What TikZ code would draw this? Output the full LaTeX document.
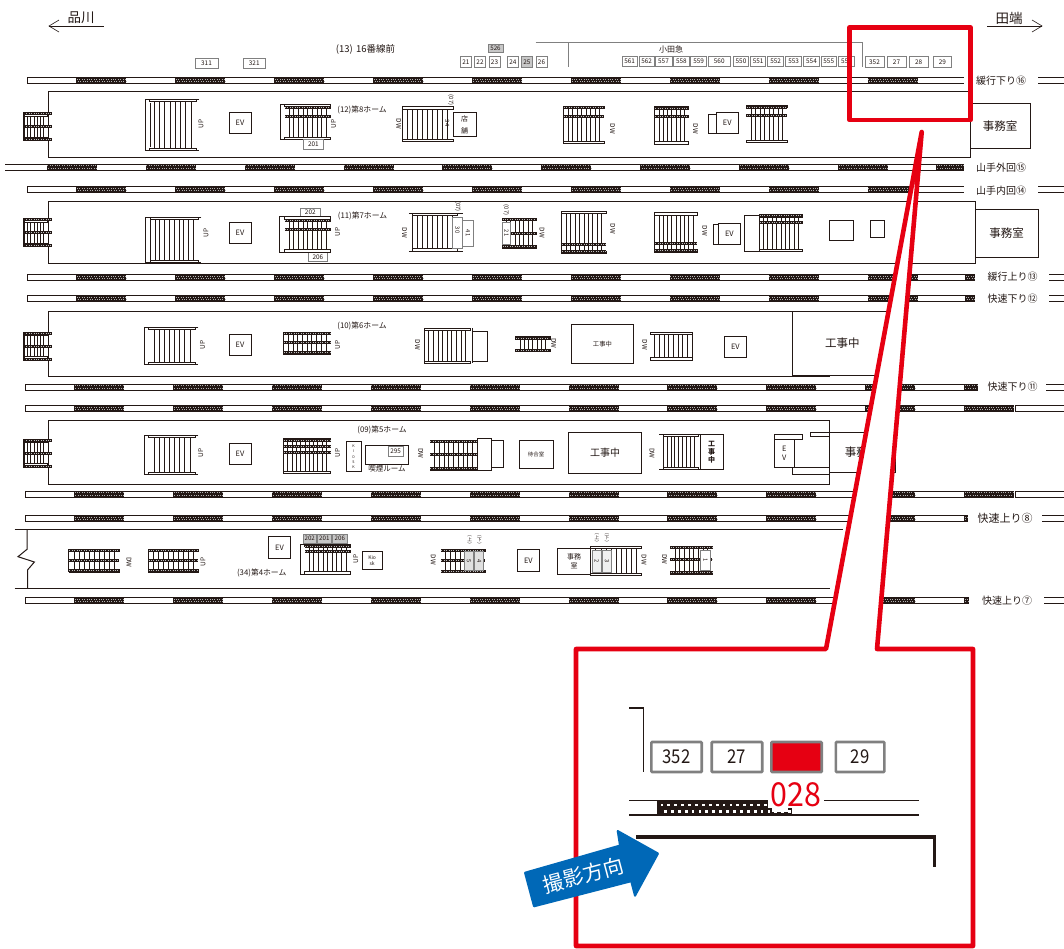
\documentclass[tikz,border=0pt]{standalone}
\usepackage{fontspec}
\setmainfont{Noto Sans CJK JP}
\definecolor{inkdark}{HTML}{231815}
\definecolor{boxgrey}{HTML}{808080}
\definecolor{markred}{HTML}{E60012}
\definecolor{dirblue}{HTML}{0068B7}
\newcommand{\fs}[1]{\fontsize{#1}{#1}\selectfont}
\tikzset{
  rail/.style={draw=inkdark,line width=.7},
  wall/.style={draw=inkdark,line width=1},
  thinbox/.style={draw=inkdark,line width=.6,fill=white},
  numbox/.style={draw=boxgrey,line width=.8,fill=white},
  greybox/.style={draw=boxgrey,line width=.8,fill=black!22},
  tag/.style={font=\fs{#1},text=inkdark,inner sep=0pt},
  tag/.default=6
}
\newcommand{\blk}[3]{\fill[inkdark] (#1,#3) rectangle (#2,#3+6);
  \draw[black!30,line width=.9,dash pattern=on .9 off 1.5] (#1+.6,#3+1.8) -- (#2-.4,#3+1.8);
  \draw[black!30,line width=.9,dash pattern=on .9 off 1.5] (#1+1.4,#3+4.2) -- (#2-.4,#3+4.2);}
\newcommand{\track}[3]{\draw[rail] (#2,#1) -- (#2,#1+6);
  \draw[rail] (#2,#1) -- (#3,#1) (#2,#1+6) -- (#3,#1+6);}
\newcommand{\blocks}[2]{\foreach \k in {0,...,8} \blk{#1+98.9*\k}{#1+98.9*\k+50}{#2};}
\newcommand{\stair}[5]{\foreach \k in {1,...,#5} \draw[inkdark,line width=.5] ({#1+(#2-#1)*\k/(#5+1)},#3) -- ({#1+(#2-#1)*\k/(#5+1)},#4);
  \draw[thinbox] (#1,#3) rectangle (#2,#3+2.4);
  \draw[thinbox] (#1,#4-2.4) rectangle (#2,#4);}
\newcommand{\band}[3]{\fill[inkdark] (#1,#3-1.5) rectangle (#2,#3+1.5);
  \draw[black!25,line width=.7,dash pattern=on .8 off 1.6] (#1+.5,#3) -- (#2-.5,#3);}
\newcommand{\sideesc}[1]{\stair{24}{47}{#1-13}{#1+13}{6}
  \band{23.4}{51.6}{#1-13}\band{23.4}{51.6}{#1}\band{23.4}{51.6}{#1+13}
  \draw[inkdark,line width=1.4] (24,#1-14) -- (24,#1+14);}
\newcommand{\uplbl}[2]{\node[tag=6.5,rotate=90] at (#1,#2) {UP};}
\newcommand{\dwlbl}[2]{\node[tag=6.5,rotate=-90] at (#1,#2) {DW};}
\newcommand{\vlbl}[3]{\node[tag=5.8,rotate=-90] at (#1,#2) {#3};}
\newcommand{\updown}[3]{\node[tag=4.6,align=center] at (#1,#2) {︵\\#3\\︶};}
\newcommand{\evbox}[4]{\draw[thinbox] (#1,#3) rectangle node[tag=7.4] {EV} (#2,#4);}
\newcommand{\nb}[5]{\draw[numbox] (#1,#3) rectangle node[tag=6.4] {#5} (#2,#4);}
\begin{document}
\begin{tikzpicture}[x=1pt,y=-1pt]
\useasboundingbox (0,0) rectangle (1064,948);
\fill[white] (0,0) rectangle (1064,948);
\draw[inkdark,line width=.6] (49,26) -- (104,26);
\draw[inkdark,line width=.6] (59,20) -- (49,26) -- (59,32);
\draw[inkdark,line width=.6] (987,26) -- (1042,26);
\draw[inkdark,line width=.6] (1032,20) -- (1042,26) -- (1032,32);
\node[tag=13.5] at (81,18) {品川};
\node[tag=13.5] at (1009,18) {田端};
\node[tag=9.5] at (365.5,49) {(13)\,\,16番線前};
\node[tag=8] at (671,49) {小田急};
\draw[boxgrey,line width=.8] (535.5,42.7) -- (862,42.7) -- (862,67);
\draw[boxgrey,line width=.8] (568,42.7) -- (568,67);
\nb{195}{218}{58.7}{68}{311}
\nb{243}{265.5}{58.7}{68}{321}
\draw[greybox] (488,44.3) rectangle node[tag=6.2] {526} (503,52.7);
\nb{460.7}{471}{56.7}{67}{21}
\nb{474.5}{485.5}{56.7}{67}{22}
\nb{489}{500}{56.7}{67}{23}
\nb{507.6}{518}{56.7}{67}{24}
\draw[greybox] (521.7,56.7) rectangle node[tag=6.4] {25} (532,67);
\nb{536}{547}{56.7}{67}{26}
\foreach \xa/\xb/\num in {622/637.3/561,639/654.3/562,655/672/557,673.7/689/558,690.8/706.4/559,708.5/730/560,733.3/748.7/550,750.7/765.7/551,767.7/783.7/552,785.8/801.5/553,803.5/819.5/554,821/836.5/555,838.6/854.2/556}
  \nb{\xa}{\xb}{56}{66.7}{\num};
\foreach \xa/\xb/\num in {865/884/352,887/906/27,909.4/928/28,933/951.6/29}
  \nb{\xa}{\xb}{56.7}{67.3}{\num};

\track{77.3}{27}{964}
\blocks{76.4}{77.3}
\draw[rail] (5,164) -- (964,164) (5,170) -- (964,170);
\blocks{46.8}{164}
\blk{936}{964}{164}
\track{186.7}{27}{964}
\blocks{76.4}{186.7}
\track{274.3}{27}{975}
\blocks{76.4}{274.3}
\blk{965.3}{975}{274.3}
\track{295.7}{27}{975}
\blocks{76.4}{295.7}
\blk{965.3}{975}{295.7}
\track{384}{25}{977.5}
\blocks{74}{384}
\blk{964}{977.5}{384}
\track{405.3}{25}{1013.7}
\blocks{74}{405.3}
\blk{964}{1013.7}{405.3}
\track{491}{25}{1013.7}
\blocks{74}{491}
\blk{964}{1013.7}{491}
\track{515.3}{25}{967.7}
\blocks{74}{515.3}
\blk{964}{967.7}{515.3}
\track{597.7}{25}{969.4}
\blocks{74}{597.7}
\blk{964}{969.4}{597.7}
\foreach \xa/\yy in {1038/77.3,1038/186.7,1049/274.3,1049/295.7,1046/384,1042/515.3,1044/597.7}
  \draw[rail] (\xa,\yy) -- (1064,\yy) (\xa,\yy+6) -- (1064,\yy+6);
\foreach \yy in {405.3,491} \track{\yy}{1015.4}{1064};
\foreach \xx/\yy/\txt/\sz in {1001/81/緩行下り⑯/10,1001/168/山手外回⑮/10,1001/191/山手内回⑭/10,1012.5/277/緩行上り⑬/10,1012.5/298.5/快速下り⑫/10,1012.5/387/快速下り⑪/10,1005/518/快速上り⑧/11,1007/600.5/快速上り⑦/10}
  \node[tag=\sz] at (\xx,\yy) {\txt};

\draw[wall] (48.6,91.3) rectangle (970,157.3);
\sideesc{126.5}
\stair{149}{196}{99.3}{150.7}{8}
\draw[thinbox,fill=none] (199,99.3) -- (145.3,99.3) -- (145.3,150.7) -- (199,150.7);
\draw[inkdark,line width=.5] (149.8,103) -- (149.8,147);
\uplbl{201}{124}
\evbox{229}{251}{112.3}{133.3}
\stair{284.5}{330.7}{104.3}{139.3}{9}
\draw[thinbox,fill=none] (330.7,104.3) -- (280,104.3) -- (280,139.3) -- (330.7,139.3);
\band{284.5}{330.7}{107.8}\band{284.5}{330.7}{116.7}
\uplbl{333.5}{124}
\nb{303}{323.7}{139.3}{149}{201}
\node[tag=7.8] at (362,110.3) {(12)第8ホーム};
\stair{402}{452.8}{106.7}{141.7}{9}
\draw[inkdark,line width=.5] (402,106.7) -- (402,141.7);
\dwlbl{398.8}{124}
\vlbl{447.3}{123}{34}
\vlbl{451}{100}{(07)}
\draw[thinbox] (452.8,112.3) rectangle (476.6,136.7);
\node[tag=7,align=center] at (464.7,124.5) {店\\[5pt]舗};
\stair{563.4}{604.2}{106}{143.3}{8}
\draw[inkdark,line width=.6] (563.4,106) -- (563.4,143.3);
\band{563.4}{604.2}{107.8}\band{563.4}{604.2}{116}
\dwlbl{612.4}{129}
\stair{654.7}{688.7}{106.7}{144}{7}
\draw[inkdark,line width=.6] (654.7,106.7) -- (654.7,144);
\band{654.7}{688.7}{108.5}\band{654.7}{688.7}{116.5}
\dwlbl{695.5}{129}
\draw[thinbox] (708,114) rectangle (716.6,133.3);
\evbox{716.6}{737.8}{112.3}{133.3}
\stair{746.3}{787}{105.3}{142.3}{8}
\band{746.3}{787}{107}\band{746.3}{787}{115}
\draw[thinbox] (970,103.3) rectangle node[tag=11.5] {事務室} (1030.3,148);

\draw[wall] (48.6,201.7) rectangle (975.5,263.3);
\sideesc{232.5}
\stair{150}{198}{217.3}{262.7}{9}
\draw[thinbox,fill=none] (201.4,217.3) -- (145.3,217.3) -- (145.3,262.7) (145.3,262.7) -- (201.4,262.7);
\draw[inkdark,line width=.5] (150,220) -- (150,260);
\uplbl{206}{232.7}
\evbox{229}{251}{222.3}{243.3}
\nb{300.6}{320}{208}{216.7}{202}
\nb{308.2}{327.5}{252}{261.7}{206}
\stair{284.5}{330.6}{216.7}{252}{9}
\draw[thinbox,fill=none] (330.6,216.7) -- (279.6,216.7) -- (279.6,252) -- (330.6,252);
\band{284.5}{330.6}{220.7}\band{284.5}{330.6}{229}
\uplbl{337.5}{232}
\node[tag=7.8] at (362.5,216) {(11)第7ホーム};
\stair{412}{457}{213.3}{251}{8}
\draw[inkdark,line width=.5] (412,213.3) -- (412,251);
\draw[thinbox,fill=none] (408.8,213.3) -- (462.5,213.3) (408.8,251) -- (462.5,251);
\dwlbl{404.6}{233}
\draw[numbox] (452.8,217) rectangle (462.5,248);
\vlbl{457.5}{230}{30}
\draw[numbox] (462.5,220) rectangle (473.5,246.7);
\vlbl{468}{233}{41}
\vlbl{458}{206.7}{(07)}
\vlbl{506.2}{210}{(07)}
\stair{502}{536.5}{218.3}{248.3}{7}
\band{502}{536.5}{219.8}\band{502}{536.5}{233}\band{502}{536.5}{246.8}
\draw[numbox] (502,222.3) rectangle (510.7,244.3);
\vlbl{506.5}{233}{21}
\dwlbl{542}{233}
\stair{561.7}{606}{211}{253.3}{9}
\draw[inkdark,line width=.6] (561.7,211) -- (561.7,253.3);
\band{561.7}{606}{244.3}\band{561.7}{606}{251.7}
\dwlbl{612.8}{229}
\stair{654.7}{697}{212.7}{252}{9}
\draw[inkdark,line width=.6] (654.7,212.7) -- (654.7,252);
\band{654.7}{697}{243.3}\band{654.7}{697}{250.7}
\dwlbl{704.7}{231}
\draw[thinbox] (713,224.3) rectangle (718.7,244);
\evbox{718.7}{740}{223.3}{244.3}
\draw[thinbox] (744.2,215) rectangle (759,251.7);
\stair{759}{802.5}{214.5}{251.7}{9}
\band{759}{802.5}{215.5}\band{759}{802.5}{222.3}
\draw[thinbox] (829.4,220.7) rectangle (853.6,240.7);
\draw[thinbox] (870,220.7) rectangle (884.2,237.3);
\draw[thinbox] (975.5,209.3) rectangle node[tag=11.5] {事務室} (1037.8,257.3);

\draw[wall] (48.6,311) rectangle (792.3,376.7);
\draw[thinbox] (792.3,311) rectangle (892,375.7);
\node[tag=11.5] at (842.3,343.3) {工事中};
\draw[wall] (792.3,311) -- (829.7,311) (792.3,376.7) -- (829.7,376.7);
\sideesc{346}
\stair{148.7}{195}{327.3}{364.3}{8}
\draw[thinbox,fill=none] (198.3,327.3) -- (144.3,327.3) -- (144.3,364.3) -- (198.3,364.3);
\uplbl{202.5}{344.7}
\evbox{229}{251}{334.3}{355.7}
\stair{283.4}{330.6}{332.3}{354}{9}
\band{283.4}{330.6}{333.5}\band{283.4}{330.6}{342.7}\band{283.4}{330.6}{352.8}
\draw[inkdark,line width=1] (283.4,332.3) -- (283.4,354);
\uplbl{337.5}{345}
\node[tag=7.8] at (362,326) {(10)第6ホーム};
\draw[thinbox] (471.8,331.7) rectangle (487.3,361.7);
\stair{424}{470}{328.3}{363.3}{9}
\draw[inkdark,line width=.5] (424,328.3) -- (424,363.3) (471.8,328.3) -- (471.8,363.3);
\dwlbl{417.4}{345}
\stair{515.5}{549.8}{336.7}{351.7}{7}
\band{515.5}{549.8}{338}\band{515.5}{549.8}{350.4}
\dwlbl{553.8}{343.3}
\draw[thinbox] (571.6,324.3) rectangle node[tag=6.3] {工事中} (633.2,363.3);
\stair{650}{692}{332.3}{360}{8}
\draw[inkdark,line width=.8] (692,332.3) -- (692,360);
\dwlbl{644.8}{345}
\evbox{724.5}{746.3}{336.3}{357.3}

\draw[wall] (48.6,420.3) rectangle (829,484.3);
\draw[thinbox] (829,432.3) rectangle node[tag=11.5] {事務室} (895,472.7);
\sideesc{453}
\stair{148.7}{195}{435.3}{474.7}{8}
\draw[thinbox,fill=none] (198.3,435.3) -- (144.3,435.3) -- (144.3,474.7) -- (198.3,474.7);
\uplbl{200.8}{452.7}
\evbox{229}{251}{443.3}{464.7}
\stair{283.4}{330.6}{438.3}{473.3}{10}
\draw[inkdark,line width=.6] (283.4,438.3) -- (283.4,473.3);
\band{283.4}{330.6}{440}\band{283.4}{330.6}{446.3}\band{283.4}{330.6}{452.7}
\uplbl{337.5}{452.7}
\node[tag=7.8] at (382,430.3) {(09)第5ホーム};
\draw[thinbox] (346,441.7) rectangle (360.9,471.7);
\node[tag=3.6,align=center] at (353.5,456.7) {K\\[1.8pt]I\\[1.8pt]O\\[1.8pt]S\\[1.8pt]K};
\draw[thinbox] (365.4,445.3) rectangle (408.4,464);
\nb{388.4}{402.9}{446.7}{456}{295}
\node[tag=7.5] at (387,469) {喫煙ルーム};
\dwlbl{420.8}{453.3}
\stair{429.8}{477}{440}{470}{9}
\band{429.8}{477}{441.5}\band{429.8}{477}{454.5}\band{429.8}{477}{468.5}
\draw[thinbox] (491.7,440) rectangle (503.4,467.7);
\draw[thinbox] (477,438.3) rectangle (491.7,470.3);
\draw[thinbox] (519.3,440) rectangle node[tag=5.4] {待合室} (552.8,468);
\draw[thinbox] (568.5,432.7) rectangle node[tag=10] {工事中} (641.7,473.3);
\dwlbl{652}{453.3}
\stair{663}{698}{434.3}{469.3}{8}
\draw[inkdark,line width=.5] (663,434.3) -- (663,469.3);
\draw[thinbox,fill=none] (659.4,434.3) -- (700.3,434.3) (659.4,469.3) -- (700.3,469.3);
\draw[thinbox] (700.3,434.3) rectangle (722.8,469.3);
\node[tag=7,align=center] at (711.5,452) {\textbf{工}\\[1pt]\textbf{事}\\[1pt]\textbf{中}};
\draw[thinbox] (774.6,439.3) rectangle (794,467.3);
\node[tag=7.4,align=center] at (784.3,453.3) {E\\[2pt]V};
\draw[thinbox] (773.9,434.3) rectangle (801.8,439.3);
\draw[thinbox] (810.3,432.7) rectangle (829,436.7);
\draw[thinbox] (792.3,467.3) rectangle (829,474);

\draw[wall] (14.5,529) -- (843,529);
\draw[wall] (14.5,588.3) -- (830,588.3);
\draw[wall] (27,529) -- (27,549.3) -- (18,556.7) -- (34.4,562) -- (27.5,570) -- (27.5,588.3);
\stair{68.9}{119.1}{549.3}{572}{9}
\draw[inkdark,line width=1] (68.9,549.3) -- (68.9,572);
\band{68.9}{119.1}{550.8}\band{68.9}{119.1}{560.5}\band{68.9}{119.1}{570.5}
\dwlbl{129}{562.3}
\stair{148}{198.3}{549.3}{572}{9}
\draw[inkdark,line width=1] (148,549.3) -- (148,572);
\band{148}{198.3}{550.8}\band{148}{198.3}{560.5}\band{148}{198.3}{570.5}
\uplbl{203}{562}
\evbox{268.6}{290.3}{536.7}{558}
\draw[greybox] (303,534) rectangle node[tag=6.2] {202} (316.5,543.3);
\draw[greybox] (317.5,534) rectangle node[tag=6.2] {201} (331.3,543.3);
\draw[greybox] (332.6,534) rectangle node[tag=6.2] {206} (347,543.3);
\stair{304.5}{350.5}{544.3}{574}{9}
\draw[thinbox,fill=none] (350.5,544.3) -- (300,544.3) -- (300,574) -- (350.5,574);
\band{304.5}{350.5}{546.7}\band{304.5}{350.5}{551.7}
\uplbl{355.7}{559}
\draw[thinbox] (362.3,551.7) rectangle (382.2,569.3);
\node[tag=5,align=center] at (372.2,560.5) {Kio\\[1pt]sk};
\node[tag=7.8] at (261.7,573.3) {(34)第4ホーム};
\dwlbl{433.2}{560}
\stair{440.8}{484.8}{549.3}{572.7}{8}
\band{440.8}{484.8}{550.8}\band{440.8}{484.8}{560}\band{440.8}{484.8}{571.2}
\draw[numbox,fill=black!12] (464.2,551.7) rectangle (473.8,570.7);
\draw[numbox,fill=black!12] (474.5,551.7) rectangle (483.8,570.7);
\vlbl{469}{561}{5}
\vlbl{479.2}{561}{4}
\updown{469.7}{541}{上}
\updown{479.3}{541}{下}
\evbox{517.2}{539.5}{549.3}{571.7}
\draw[thinbox] (557.6,548.3) rectangle (590.6,574);
\node[tag=7,align=center] at (574,561) {事務\\[2.5pt]室};
\stair{590.6}{641.4}{546}{575.7}{9}
\draw[numbox,fill=black!6] (592,550.7) rectangle (601.5,572.7);
\draw[numbox,fill=black!6] (602.2,550.7) rectangle (611.7,572.7);
\vlbl{596.8}{561.5}{2}
\vlbl{607}{561.5}{3}
\updown{597}{539}{上}
\updown{607}{539}{下}
\dwlbl{644}{560}
\dwlbl{664.5}{559.3}
\stair{670.3}{712.2}{546}{574}{8}
\band{670.3}{712.2}{547.5}\band{670.3}{712.2}{559.5}\band{670.3}{712.2}{572.5}
\draw[numbox] (700.3,550) rectangle (710.5,570);
\vlbl{705.4}{560}{1}

\draw[markred,line width=4.6,line join=round] (849.5,27.5) rectangle (970.5,120);
\draw[markred,line width=4.6,line join=round,fill=white] (826,649) -- (921.7,132) -- (877,649) -- (973,649) -- (973,946) -- (576,946) -- (576,649) -- cycle;

\draw[inkdark,line width=1.8] (629,707.7) -- (643.4,707.7) -- (643.4,771.7);
\foreach \xa/\xb/\num in {650/703/352,710.4/763.5/27,834.5/885.6/29}
  \draw[draw=boxgrey,line width=2.6,rounded corners=.8,fill=white] (\xa+1.3,742) rectangle node[font=\fs{19},text=inkdark,xscale=.88,inner sep=0pt] {\num} (\xb-1.3,772);
\draw[draw=boxgrey,line width=2.6,rounded corners=.8,fill=markred] (771.3,742) rectangle (821.7,772);
\draw[inkdark,line width=1.3] (629,800.3) -- (919,800.3) (629,815) -- (919,815);
\fill[inkdark] (657.3,800) rectangle (791.6,815);
\foreach \k in {0,...,18} {
  \fill[white] ({660.5+6.9*\k},803.6) rectangle ++(2.8,2.8);
  \fill[white] ({664+6.9*\k},809.8) rectangle ++(2.8,2.8);}
\fill[white] (768,785) rectangle (824.4,808);
\fill[white] (772,808) rectangle (788,812);
\node[font=\fs{33},text=markred,xscale=.92,inner sep=0pt] at (796,794.5) {028};
\draw[inkdark,line width=3.2] (636,837) -- (934.7,837) -- (934.7,866.7);
\draw[dirblue,fill=dirblue,line width=2,line join=round] (525,872.7) -- (620,845.5) -- (617.7,831) -- (658,853.5) -- (635,895.7) -- (631.2,881.2) -- (534,906.3) -- cycle;
\node[font=\fs{20.5},text=white,rotate=15,inner sep=0pt] at (583.3,875) {撮影方向};
\end{tikzpicture}
\end{document}
